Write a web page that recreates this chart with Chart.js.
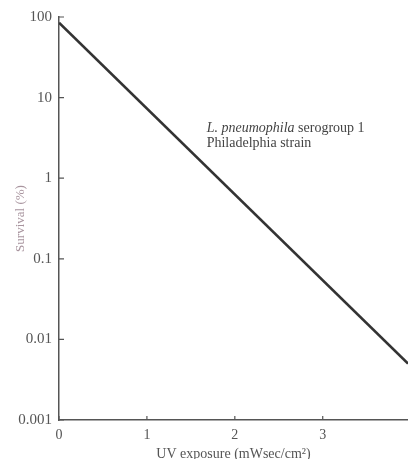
<!DOCTYPE html>
<html>
<head>
<meta charset="utf-8">
<script src="https://cdn.jsdelivr.net/npm/chart.js@4"></script>
<style>
  html, body { margin: 0; padding: 0; background: #fff; }
  canvas { display: block; }
</style>
</head>
<body>
<canvas id="uvChart" width="408" height="459"></canvas>
<script>
// survival curve (two ends of the straight line)
const uvDose = [0, 3.97];
const survival = [85, 0.005];

const xTicks = [0, 1, 2, 3];
const yTicks = [0.001, 0.01, 0.1, 1, 10, 100];
const xMax = 3.97;

// where the strain label sits, in data units
const labelAt = { x: 1.68, y: 4.2 };

const serif = '"Liberation Serif", "DejaVu Serif", serif';

// small tick marks pointing into the plot, like the printed figure
const innerTicks = {
  id: 'innerTicks',
  afterDraw(chart) {
    const { ctx, scales: { x, y } } = chart;
    ctx.save();
    ctx.strokeStyle = '#555';
    ctx.lineWidth = 1.2;
    ctx.beginPath();
    yTicks.forEach(v => {
      const py = y.getPixelForValue(v);
      ctx.moveTo(x.left, py);
      ctx.lineTo(x.left + 5, py);
    });
    xTicks.forEach(v => {
      const px = x.getPixelForValue(v);
      ctx.moveTo(px, y.bottom);
      ctx.lineTo(px, y.bottom - 4);
    });
    ctx.stroke();

    // strain label
    const lx = x.getPixelForValue(labelAt.x);
    const ly = y.getPixelForValue(labelAt.y);
    ctx.fillStyle = '#444';
    ctx.textBaseline = 'middle';
    ctx.textAlign = 'left';
    ctx.font = 'italic 14px ' + serif;
    const italicPart = 'L. pneumophila';
    ctx.fillText(italicPart, lx, ly);
    const w = ctx.measureText(italicPart + ' ').width;
    ctx.font = '14px ' + serif;
    ctx.fillText('serogroup 1', lx + w, ly);
    ctx.fillText('Philadelphia strain', lx, ly + 15);
    ctx.restore();
  }
};

new Chart(document.getElementById('uvChart'), {
  type: 'line',
  data: {
    datasets: [{
      data: uvDose.map((d, i) => ({ x: d, y: survival[i] })),
      borderColor: '#333',
      borderWidth: 2.6,
      pointRadius: 0,
      fill: false,
      tension: 0
    }]
  },
  options: {
    responsive: false,
    animation: false,
    layout: { padding: { top: 17, right: 0, left: 0, bottom: 0 } },
    plugins: {
      legend: { display: false },
      tooltip: { enabled: false }
    },
    scales: {
      x: {
        type: 'linear',
        min: 0,
        max: xMax,
        afterBuildTicks: s => { s.ticks = xTicks.map(v => ({ value: v })); },
        grid: { display: true, drawOnChartArea: false, drawTicks: false },
        border: { display: true, color: '#555', width: 1.5 },
        ticks: {
          color: '#555',
          padding: 7,
          font: { family: serif, size: 14 },
          callback: v => String(v)
        },
        title: {
          display: true,
          text: 'UV exposure (mWsec/cm\u00B2)',
          color: '#555',
          font: { family: serif, size: 14 },
          padding: { top: 7, bottom: -4 }
        },
        afterFit: s => { s.height = 39; }
      },
      y: {
        type: 'logarithmic',
        min: 0.001,
        max: 100,
        afterBuildTicks: s => { s.ticks = yTicks.map(v => ({ value: v })); },
        grid: { display: true, drawOnChartArea: false, drawTicks: false },
        border: { display: true, color: '#555', width: 1.5 },
        ticks: {
          color: '#555',
          padding: 7,
          font: { family: serif, size: 15 },
          callback: v => String(v)
        },
        title: {
          display: true,
          text: 'Survival (%)',
          color: '#a8949e',
          font: { family: serif, size: 13 },
          padding: { top: 13, bottom: 2 }
        },
        afterFit: s => { s.width = 59; }
      }
    }
  },
  plugins: [innerTicks]
});
</script>
</body>
</html>
